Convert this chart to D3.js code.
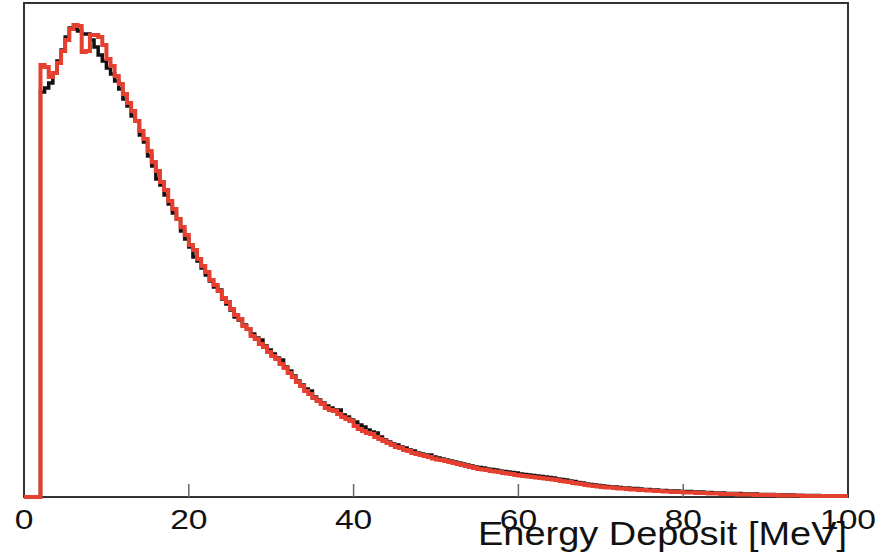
<!DOCTYPE html>
<html>
<head>
<meta charset="utf-8">
<title>Energy Deposit</title>
<style>
body { margin: 0; background: #fff; }
svg { display: block; }
.frame { fill: none; stroke: #333; stroke-width: 2; }
.tick { stroke: #666; stroke-width: 1.5; }
.label { font-family: "Liberation Sans", Arial, sans-serif; fill: #111; }
.hist { fill: none; stroke-linejoin: miter; }
</style>
<script src="https://d3js.org/d3.v7.min.js"></script>
</head>
<body>
<script>
var width = 895, height = 557;

// histogram bins: 0.5 MeV wide, starting at 0 MeV
var binStart = 0, binWidth = 0.5;

// black histogram (counts per bin)
var blackCounts = [
  0,0,0,0,
  4050,4090,4140,4240,4360,4470,4600,4690,4680,4660,
  4630,4630,4570,4500,4420,4360,4290,4230,4160,4080,
  3980,3910,3810,3760,3620,3550,3410,3310,3180,3120,
  3020,2930,2840,2780,2660,2580,2500,2400,2360,2290,
  2220,2160,2100,2070,1980,1930,1870,1800,1770,1720,
  1680,1630,1590,1570,1510,1470,1430,1390,1370,1300,
  1260,1210,1160,1120,1080,1060,1000,970,940,910,
  890,870,870,820,800,770,750,720,700,670,
  650,640,600,570,550,530,520,500,490,470,
  460,440,430,420,420,400,390,380,370,360,
  350,340,330,320,310,300,295,290,280,275,
  270,260,255,250,245,240,230,225,220,215,
  210,205,200,195,190,180,175,170,160,155,
  145,140,130,125,120,115,110,105,100,100,
  95,90,90,85,85,80,75,75,70,70,
  65,65,60,60,60,55,55,55,50,50,
  50,45,45,40,40,40,35,35,35,35,
  30,30,30,30,25,25,25,25,20,20,
  20,20,20,15,15,15,15,15,15,10,
  10,10,10,10,10,10
];

// red histogram (counts per bin)
var redCounts = [
  0,0,0,0,
  4320,4300,4200,4240,4340,4460,4570,4680,4720,4710,
  4450,4460,4620,4620,4600,4520,4380,4310,4210,4130,
  4030,3940,3860,3760,3660,3580,3460,3350,3260,3150,
  3070,2960,2880,2780,2700,2620,2520,2470,2380,2310,
  2250,2170,2120,2060,1990,1950,1880,1820,1780,1710,
  1680,1610,1580,1530,1500,1450,1410,1380,1330,1290,
  1240,1200,1150,1110,1060,1030,990,960,930,890,
  870,860,830,800,780,760,710,680,660,640,
  630,600,580,560,540,520,500,490,470,460,
  440,430,420,410,400,385,375,370,360,350,
  340,330,320,310,300,290,280,275,270,260,
  255,250,240,235,230,220,215,210,205,200,
  195,190,185,180,175,170,160,155,150,140,
  135,130,120,115,110,105,100,95,95,90,
  85,85,80,75,75,70,70,65,65,60,
  60,55,55,50,50,50,45,45,45,40,
  40,40,35,35,35,30,30,30,30,25,
  25,25,25,20,20,20,20,20,20,15,
  15,15,15,15,15,10,10,10,10,10,
  10,10,10,10,10,10
];

var xTicks = [0, 20, 40, 60, 80, 100];
var xTitle = "Energy Deposit [MeV]";

var margin = {left: 24, right: 47, top: 3, bottom: 60};

var x = d3.scaleLinear().domain([0, 100]).range([margin.left, width - margin.right]);
var y = d3.scaleLinear().domain([0, 4940]).range([height - margin.bottom, margin.top]);

var svg = d3.select("body").append("svg")
    .attr("width", width)
    .attr("height", height);

// frame
svg.append("rect")
    .attr("class", "frame")
    .attr("x", x(0))
    .attr("y", y.range()[1])
    .attr("width", x(100) - x(0))
    .attr("height", y.range()[0] - y.range()[1]);

// small inner ticks
svg.selectAll("line.tick")
    .data(xTicks.filter(function(d) { return d > 0 && d < 100; }))
  .enter().append("line")
    .attr("class", "tick")
    .attr("x1", function(d) { return x(d); })
    .attr("x2", function(d) { return x(d); })
    .attr("y1", y(0))
    .attr("y2", y(0) - 13);

// step histogram path from counts
function stepPoints(counts) {
  var pts = [];
  counts.forEach(function(c, i) {
    var lo = binStart + i * binWidth;
    pts.push([lo, c]);
    pts.push([lo + binWidth, c]);
  });
  return pts;
}

var line = d3.line()
    .x(function(d) { return x(d[0]); })
    .y(function(d) { return y(d[1]); });

svg.append("path")
    .attr("class", "hist")
    .attr("d", line(stepPoints(blackCounts)))
    .attr("stroke", "#111")
    .attr("stroke-width", 3.5);

svg.append("path")
    .attr("class", "hist")
    .attr("d", line(stepPoints(redCounts)))
    .attr("stroke", "#e5402f")
    .attr("stroke-width", 4);

// tick labels (picture is a bit stretched sideways)
svg.selectAll("text.ticklabel")
    .data(xTicks)
  .enter().append("text")
    .attr("class", "label ticklabel")
    .attr("transform", function(d) { return "translate(" + x(d) + ",529) scale(1.2,1)"; })
    .attr("text-anchor", "middle")
    .style("font-size", "28px")
    .text(function(d) { return d; });

// axis title
svg.append("text")
    .attr("class", "label")
    .attr("transform", "translate(" + (x(100) - 1) + ",545) scale(1.15,1)")
    .attr("text-anchor", "end")
    .style("font-size", "33px")
    .text(xTitle);
</script>
</body>
</html>
